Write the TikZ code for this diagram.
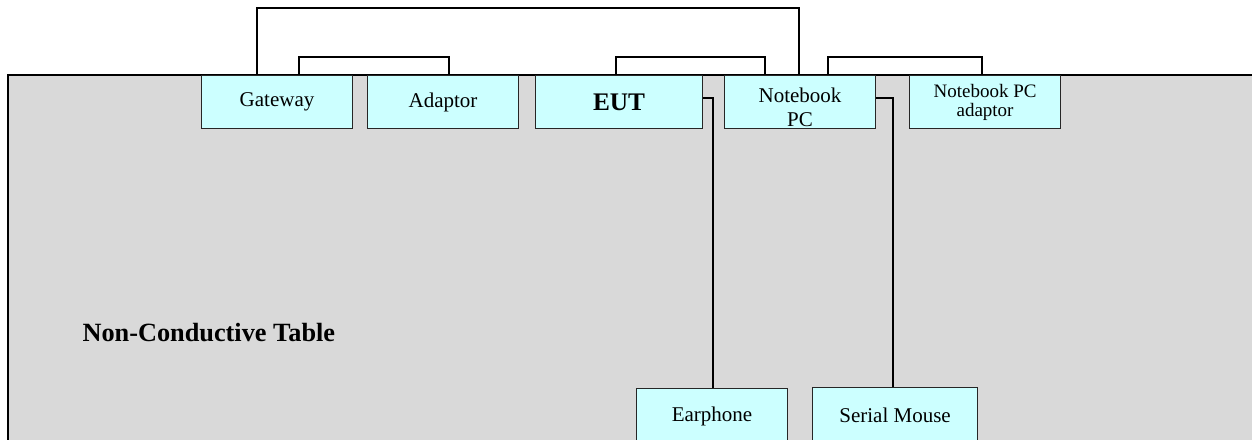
\documentclass[tikz,border=0pt]{standalone}
\usepackage{fontspec}
\setmainfont{Liberation Serif}
\usetikzlibrary{calc}
\definecolor{tablegray}{HTML}{D9D9D9}
\definecolor{boxcyan}{HTML}{CCFFFF}
\begin{document}
\begin{tikzpicture}[x=1pt,y=-1pt,
  devbox/.style={draw=black!85, line width=1.1pt, fill=boxcyan, anchor=north west,
    inner sep=0pt, font=\fontsize{21}{24}\selectfont, align=center},
  wire/.style={draw=black, line width=1.3pt}]
\useasboundingbox (0,0) rectangle (1252,439);
% table
\path[fill=tablegray, draw=black, line width=1.6pt] (8,75) rectangle (1270,460);
\node[anchor=base west, font=\fontsize{26.3}{30}\selectfont\bfseries] (tbl) at (79,341) {Non-Conductive Table};
% boxes
\node[devbox, minimum width=151pt, minimum height=53pt] (gw) at (201,75) {Gateway};
\node[devbox, minimum width=151pt, minimum height=53pt] (ad) at (367,75) {Adaptor};
\node[devbox, minimum width=167pt, minimum height=53pt, font=\fontsize{25.3}{28}\selectfont\bfseries] (eut) at (535,75) {EUT};
\node[devbox, minimum width=151pt, minimum height=53pt] (nb) at (724,75) {};
\node[align=center, font=\fontsize{21}{24}\selectfont, inner sep=0pt] (nbt) at ([yshift=-5.5pt]nb.center) {Notebook\\PC};
\node[devbox, minimum width=151pt, minimum height=53pt, font=\fontsize{19}{19}\selectfont] (nba) at (909,75) {Notebook PC\\adaptor};
\node[devbox, minimum width=151pt, minimum height=56pt] (ear) at (636,388) {Earphone};
\node[devbox, minimum width=165pt, minimum height=56pt] (sm) at (812,387) {Serial Mouse};
% connectors
\draw[wire] ([xshift=56pt]gw.north west) |- ([xshift=75pt,yshift=67pt]nb.north west) -- ([xshift=75pt]nb.north west);
\draw[wire] ([xshift=98pt]gw.north west) |- ([xshift=82pt,yshift=18pt]ad.north west) -- ([xshift=82pt]ad.north west);
\draw[wire] ([xshift=81pt]eut.north west) |- ([xshift=41pt,yshift=18pt]nb.north west) -- ([xshift=41pt]nb.north west);
\draw[wire] ([xshift=104pt]nb.north west) |- ([xshift=73pt,yshift=18pt]nba.north west) -- ([xshift=73pt]nba.north west);
\draw[wire] ([yshift=-23pt]eut.north east) -| ([xshift=77pt]ear.north west);
\draw[wire] ([yshift=-23pt]nb.north east) -| ([xshift=81pt]sm.north west);
\end{tikzpicture}
\end{document}
